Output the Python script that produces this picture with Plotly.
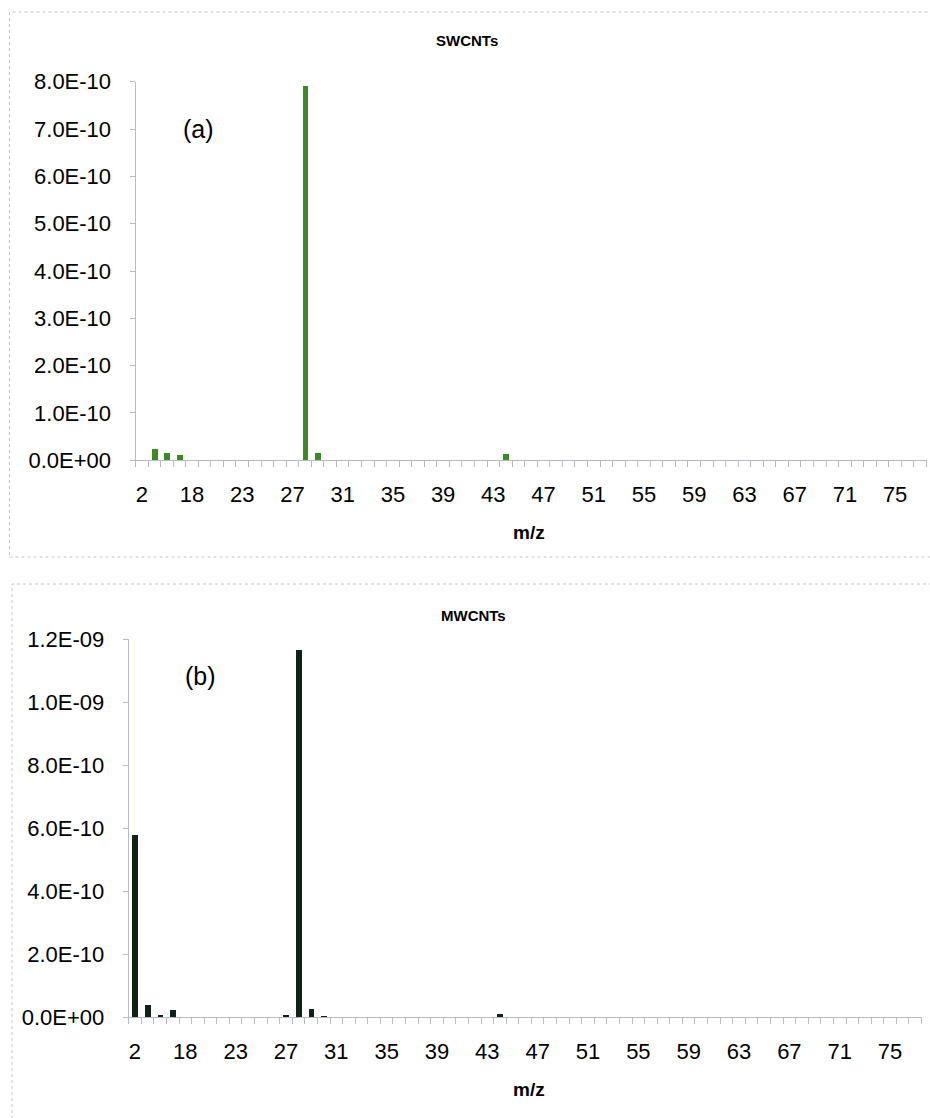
import plotly.graph_objects as go

W, H = 930, 1118

# m/z channels recorded by the mass spectrometer (category axis)
mz = [2, 12, 14, 16, 18, 19, 20, 22] + list(range(23, 78))
tick_mz = [2, 18, 23, 27, 31, 35, 39, 43, 47, 51, 55, 59, 63, 67, 71, 75]

# ion current peaks (A); unlisted channels are zero
sw_peaks = {12: 2.4e-11, 14: 1.55e-11, 16: 1.1e-11, 27: 0.5e-12,
            28: 7.92e-10, 29: 1.7e-11, 30: 0.3e-12, 44: 1.35e-11}
mw_peaks = {2: 5.78e-10, 12: 3.9e-11, 14: 0.6e-11, 16: 2.1e-11, 27: 0.4e-11,
            28: 1.164e-9, 29: 2.5e-11, 30: 1.0e-12, 44: 1.0e-11}

sw_values = [sw_peaks.get(m, 0.0) for m in mz]
mw_values = [mw_peaks.get(m, 0.0) for m in mz]

sw_yticks = [0, 1e-10, 2e-10, 3e-10, 4e-10, 5e-10, 6e-10, 7e-10, 8e-10]
sw_ytext = ["0.0E+00", "1.0E-10", "2.0E-10", "3.0E-10", "4.0E-10",
            "5.0E-10", "6.0E-10", "7.0E-10", "8.0E-10"]
mw_yticks = [0, 2e-10, 4e-10, 6e-10, 8e-10, 1.0e-9, 1.2e-9]
mw_ytext = ["0.0E+00", "2.0E-10", "4.0E-10", "6.0E-10", "8.0E-10",
            "1.0E-09", "1.2E-09"]

FONT = "Liberation Sans, Arial, sans-serif"
AXIS_COLOR = "#b9b9c9"
TEXT_COLOR = "#000000"
idx = list(range(len(mz)))


def px_x(x):
    return x / W


def px_y(y):
    return 1 - y / H


fig = go.Figure()
fig.add_trace(go.Bar(x=idx, y=sw_values, width=0.47, marker_color="#3b8a22",
                     marker_line_width=0, xaxis="x", yaxis="y", showlegend=False))
fig.add_trace(go.Bar(x=idx, y=mw_values, width=0.47, marker_color="#0f2318",
                     marker_line_width=0, xaxis="x2", yaxis="y2", showlegend=False))


def xaxis_cfg(left, right):
    return dict(
        domain=[px_x(left), px_x(right)], range=[-0.5, len(mz) - 0.5],
        tickmode="array", tickvals=[mz.index(m) for m in tick_mz],
        ticktext=[str(m) for m in tick_mz], ticks="", ticklabelstandoff=14,
        tickfont=dict(family=FONT, size=22, color=TEXT_COLOR),
        minor=dict(ticks="outside", ticklen=6, tickcolor=AXIS_COLOR,
                   tick0=-0.5, dtick=1, showgrid=False),
        showline=True, linecolor=AXIS_COLOR, linewidth=1,
        showgrid=False, zeroline=False, automargin=False,
    )


def yaxis_cfg(top, bottom, vals, text, xanchor):
    return dict(
        domain=[px_y(bottom), px_y(top)], range=[0, vals[-1]],
        tickmode="array", tickvals=vals, ticktext=text,
        ticks="outside", ticklen=5, tickcolor=AXIS_COLOR, ticklabelstandoff=14,
        tickfont=dict(family=FONT, size=22, color=TEXT_COLOR),
        showline=True, linecolor=AXIS_COLOR, linewidth=1,
        showgrid=False, zeroline=False, anchor=xanchor, automargin=False,
    )


fig.update_layout(
    width=W, height=H, margin=dict(l=0, r=0, t=0, b=0, pad=0, autoexpand=False),
    paper_bgcolor="white", plot_bgcolor="white", bargap=0,
    xaxis=dict(xaxis_cfg(135.5, 926.5), anchor="y"),
    yaxis=yaxis_cfg(81.7, 460.3, sw_yticks, sw_ytext, "x"),
    xaxis2=dict(xaxis_cfg(128.7, 921.5), anchor="y2"),
    yaxis2=yaxis_cfg(639.3, 1017.3, mw_yticks, mw_ytext, "x2"),
)

# chart-area frames
for y0, y1, x0 in [(12, 557, 9.5), (584, 1130, 12)]:
    fig.add_shape(type="rect", xref="paper", yref="paper",
                  x0=px_x(x0), x1=px_x(940), y0=px_y(y1), y1=px_y(y0),
                  line=dict(color="#c4c4cc", width=1, dash="dot"))

labels = [
    ("<b>SWCNTs</b>", 467, 40, 15),
    ("(a)", 198, 129, 25),
    ("<b>m/z</b>", 529, 532, 19),
    ("<b>MWCNTs</b>", 474, 615, 15),
    ("(b)", 200, 676, 25),
    ("<b>m/z</b>", 529, 1089, 19),
]
for text, x, y, size in labels:
    fig.add_annotation(text=text, xref="paper", yref="paper", x=px_x(x), y=px_y(y),
                       xanchor="center", yanchor="middle", showarrow=False,
                       font=dict(family=FONT, size=size, color=TEXT_COLOR))

fig.write_html("out.html")
